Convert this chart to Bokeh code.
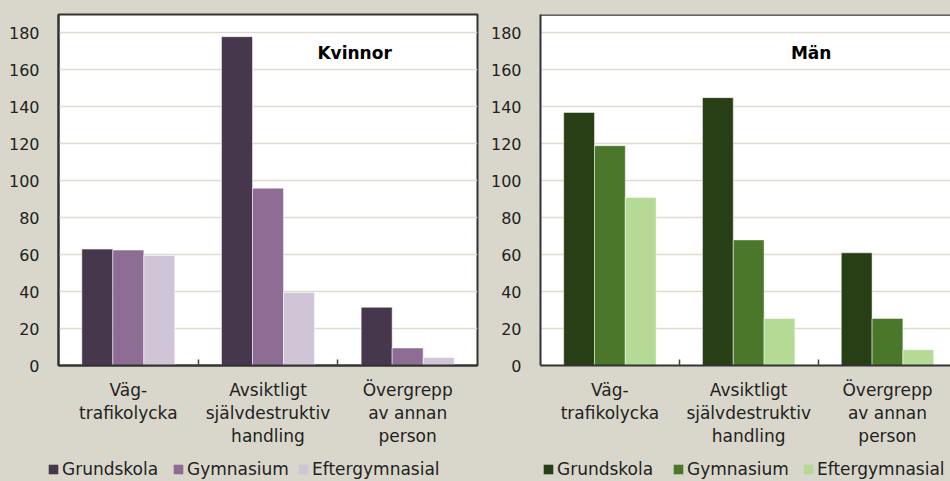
from bokeh.plotting import figure
from bokeh.models import Range1d, FixedTicker, Legend, LegendItem, Label, Span, ColumnDataSource
from bokeh.layouts import row, column
from bokeh.embed import file_html
from bokeh.resources import INLINE

# ---- data ----
categories = ["Väg-\ntrafikolycka", "Avsiktligt\nsjälvdestruktiv\nhandling", "Övergrepp\nav annan\nperson"]
series = ["Grundskola", "Gymnasium", "Eftergymnasial"]
kvinnor_grundskola = [63, 178, 31.5]
kvinnor_gymnasium = [62.5, 96, 9.5]
kvinnor_eftergymnasial = [59.5, 39.5, 4.3]
man_grundskola = [137, 145, 61]
man_gymnasium = [119, 68, 25.5]
man_eftergymnasial = [91, 25.5, 8.5]
y_ticks = [0, 20, 40, 60, 80, 100, 120, 140, 160, 180]

BG = "#D9D7CB"
FONT = "DejaVu Sans"
kv_colors = ["#46374D", "#8D6D93", "#D0C4D7"]
man_colors = ["#283E15", "#4B772B", "#B5DA96"]

CHART_H = 457
LEG_H = 24
BAR_W = 0.222


def make_chart(title, values, colors, width, bl, br, bt, bb, x_end, title_x, full_outline):
    p = figure(width=width, height=CHART_H, x_range=Range1d(0, x_end), y_range=Range1d(0, 190),
               output_backend="svg", toolbar_location=None,
               min_border_left=bl, min_border_right=br, min_border_top=bt, min_border_bottom=bb,
               background_fill_color="white", border_fill_color=BG)
    p.xgrid.visible = False
    p.ygrid.grid_line_color = "#DEDBD0"
    p.ygrid.grid_line_width = 1.5
    p.ygrid.ticker = FixedTicker(ticks=y_ticks)

    for k, (vals, col) in enumerate(zip(values, colors)):
        xs = [i + 0.5 + (k - 1) * BAR_W for i in range(len(categories))]
        src = ColumnDataSource(dict(x=xs, top=vals))
        p.vbar(x="x", top="top", width=BAR_W, source=src, fill_color=col,
               line_color="white", line_alpha=0.5, line_width=1)

    xa = p.xaxis[0]
    xa.ticker = FixedTicker(ticks=[i + 0.5 for i in range(len(categories))],
                            minor_ticks=[i for i in range(1, len(categories))])
    xa.major_label_overrides = {i + 0.5: c for i, c in enumerate(categories)}
    xa.major_tick_line_color = None
    xa.minor_tick_in = 6
    xa.minor_tick_out = 0
    xa.minor_tick_line_color = "#444444"
    xa.minor_tick_line_width = 1.5
    xa.axis_line_color = "#333333"
    xa.axis_line_width = 2
    xa.major_label_text_font = FONT
    xa.major_label_text_font_size = "17px"
    xa.major_label_text_color = "#222222"
    xa.major_label_text_line_height = 1.17
    xa.major_label_standoff = 8

    ya = p.yaxis[0]
    ya.ticker = FixedTicker(ticks=y_ticks)
    ya.major_tick_in = 0
    ya.major_tick_out = 0
    ya.minor_tick_line_color = None
    ya.axis_line_color = "#333333"
    ya.axis_line_width = 2
    ya.major_label_text_font = FONT
    ya.major_label_text_font_size = "16px"
    ya.major_label_text_color = "#222222"
    ya.major_label_standoff = 19

    if full_outline:
        p.outline_line_color = "#333333"
        p.outline_line_width = 2
    else:
        p.outline_line_color = None
        p.add_layout(Span(location=190, dimension="width", line_color="#333333", line_width=2.5))

    p.add_layout(Label(x=title_x, y=169, x_units="data", y_units="data", text=title,
                       text_font=FONT, text_font_style="bold", text_font_size="17px",
                       text_align="center", text_baseline="middle", text_color="black"))
    return p


def make_legend(colors, width, legend_x, label_w):
    q = figure(width=width, height=LEG_H, output_backend="svg", toolbar_location=None,
               x_range=Range1d(0, 1), y_range=Range1d(0, 1),
               x_axis_type=None, y_axis_type=None, min_border=0,
               background_fill_color=BG, border_fill_color=BG, outline_line_color=None)
    q.xgrid.visible = False
    q.ygrid.visible = False
    items = []
    for name, col in zip(series, colors):
        # legend proxy: a zero-height bar, nothing visible is drawn
        r = q.vbar(x=[0.5], top=[0], bottom=[0], width=0.0, fill_color=col, line_color=None)
        items.append(LegendItem(label=name, renderers=[r]))
    leg = Legend(items=items, orientation="horizontal", location=(legend_x, 2),
                 label_text_font=FONT, label_text_font_size="17px", label_text_color="#222222",
                 glyph_width=12, glyph_height=12, label_standoff=3, spacing=3,
                 label_width=label_w, padding=0, margin=0, label_height=18,
                 background_fill_alpha=0, border_line_color=None)
    q.add_layout(leg)
    return q


left = make_chart("Kvinnor", [kvinnor_grundskola, kvinnor_gymnasium, kvinnor_eftergymnasial],
                  kv_colors, width=486, bl=58, br=9, bt=13, bb=92, x_end=3.0, title_x=2.12,
                  full_outline=True)
right = make_chart("Män", [man_grundskola, man_gymnasium, man_eftergymnasial],
                   man_colors, width=464, bl=54, br=0, bt=14, bb=89, x_end=2.954, title_x=1.95,
                   full_outline=False)
left_leg = make_legend(kv_colors, 486, 47, 107)
right_leg = make_legend(man_colors, 464, 56, 112)

bg_style = {"background-color": BG}
layout = column(row(left, right, spacing=0, styles=bg_style),
                row(left_leg, right_leg, spacing=0, styles=bg_style),
                spacing=0, styles=bg_style)
open("out.html", "w").write(file_html(layout, INLINE))
